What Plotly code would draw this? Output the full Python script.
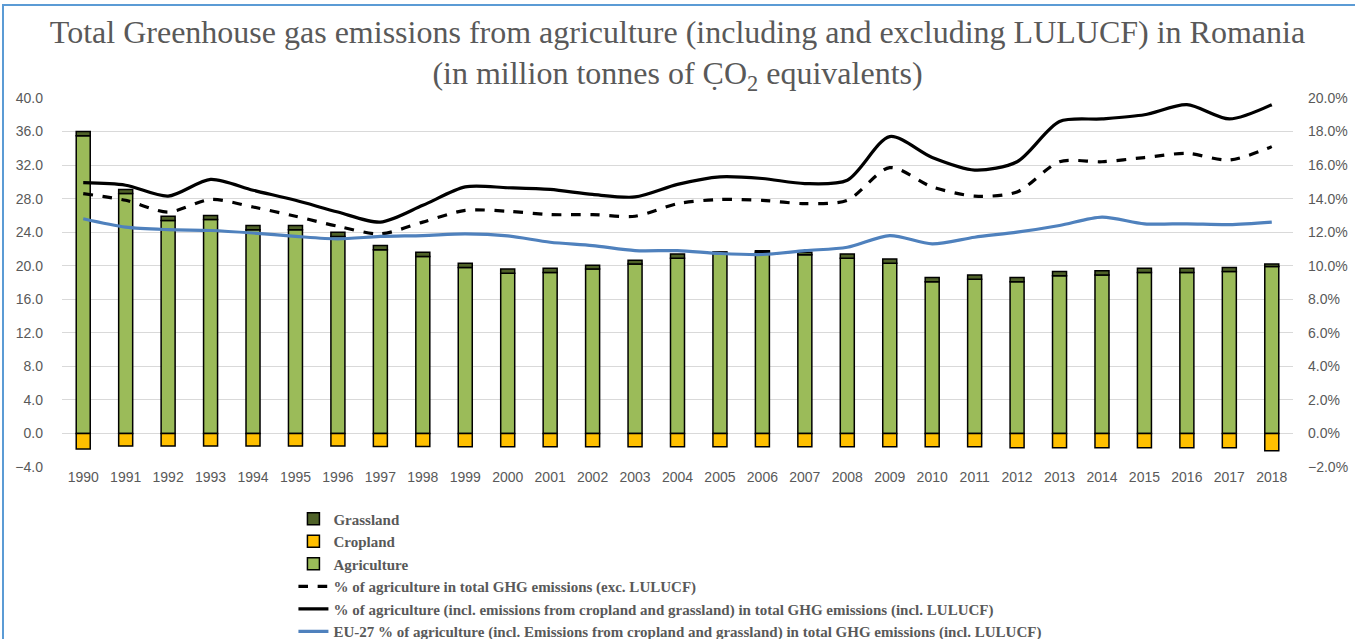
import plotly.graph_objects as go

years = [str(y) for y in range(1990, 2019)]

agriculture = [35.5, 28.6, 25.4, 25.5, 24.3, 24.3, 23.5, 21.9, 21.1, 19.8, 19.1, 19.2, 19.6, 20.2, 20.9,
               21.5, 21.6, 21.3, 20.9, 20.3, 18.1, 18.4, 18.1, 18.8, 18.9, 19.2, 19.2, 19.3, 19.9]
grassland = [0.5, 0.5, 0.5, 0.5, 0.5, 0.5, 0.5, 0.5, 0.5, 0.5, 0.5, 0.5, 0.45, 0.45, 0.5,
             0.15, 0.2, 0.3, 0.5, 0.5, 0.5, 0.5, 0.5, 0.5, 0.5, 0.5, 0.5, 0.5, 0.3]
cropland = [-1.85, -1.5, -1.5, -1.5, -1.5, -1.5, -1.5, -1.55, -1.55, -1.6, -1.6, -1.6, -1.6, -1.6, -1.6,
            -1.6, -1.6, -1.6, -1.6, -1.6, -1.6, -1.6, -1.7, -1.7, -1.7, -1.7, -1.7, -1.7, -2.05]

pct_excl = [14.3, 13.9, 13.2, 13.95, 13.5, 12.95, 12.35, 11.9, 12.6, 13.3, 13.25, 13.05, 13.05, 12.95, 13.7,
            13.95, 13.9, 13.7, 13.9, 15.85, 14.7, 14.15, 14.4, 16.2, 16.2, 16.45, 16.7, 16.3, 17.1]
pct_incl = [14.95, 14.8, 14.15, 15.15, 14.5, 13.9, 13.2, 12.6, 13.6, 14.7, 14.65, 14.55, 14.25, 14.1, 14.85,
            15.3, 15.2, 14.9, 15.1, 17.7, 16.45, 15.7, 16.2, 18.6, 18.75, 19.0, 19.6, 18.75, 19.6]
pct_eu27 = [12.8, 12.3, 12.15, 12.1, 11.95, 11.75, 11.6, 11.75, 11.8, 11.9, 11.78, 11.4, 11.2, 10.9, 10.9,
            10.73, 10.67, 10.9, 11.1, 11.8, 11.3, 11.7, 12.0, 12.4, 12.9, 12.5, 12.5, 12.45, 12.6]

left_ticks = [-4, 0, 4, 8, 12, 16, 20, 24, 28, 32, 36, 40]
right_ticks = [-2, 0, 2, 4, 6, 8, 10, 12, 14, 16, 18, 20]

title_text = ("Total Greenhouse gas emissions from agriculture (including and excluding LULUCF) in Romania<br>"
              "(in million tonnes of C\u0323O<sub>2</sub> equivalents)")

fig = go.Figure()
bar_line = dict(color="black", width=1.5)
fig.add_trace(go.Bar(x=years, y=agriculture, name="Agriculture", marker=dict(color="#9BBB59", line=bar_line),
                     width=0.33, legendrank=3))
fig.add_trace(go.Bar(x=years, y=grassland, name="Grassland", marker=dict(color="#4F6228", line=bar_line),
                     width=0.33, legendrank=1))
fig.add_trace(go.Bar(x=years, y=cropland, name="Cropland", marker=dict(color="#FFC000", line=bar_line),
                     width=0.33, legendrank=2))
fig.add_trace(go.Scatter(x=years, y=[v / 100 for v in pct_excl], yaxis="y2", mode="lines",
                         name="% of agriculture in total GHG emissions (exc. LULUCF)",
                         line=dict(color="black", width=3.2, dash="dash", shape="spline", smoothing=0.8),
                         legendrank=4))
fig.add_trace(go.Scatter(x=years, y=[v / 100 for v in pct_incl], yaxis="y2", mode="lines",
                         name="% of agriculture (incl. emissions from cropland and grassland) in total GHG emissions (incl. LULUCF)",
                         line=dict(color="black", width=3.2, shape="spline", smoothing=0.8),
                         legendrank=5))
fig.add_trace(go.Scatter(x=years, y=[v / 100 for v in pct_eu27], yaxis="y2", mode="lines",
                         name="EU-27 % of agriculture (incl. Emissions from cropland and grassland) in total GHG emissions (incl. LULUCF)",
                         line=dict(color="#4F81BD", width=3.2, shape="spline", smoothing=0.8),
                         legendrank=6))

tick_font = dict(family="Liberation Sans Narrow, Liberation Sans, Arial", size=14, color="#595959")

fig.update_layout(
    width=1355, height=639,
    barmode="relative",
    bargap=0.67,
    paper_bgcolor="white", plot_bgcolor="white",
    margin=dict(l=62, r=62, t=98, b=172, autoexpand=False),
    title=dict(text=title_text, x=0.5, xanchor="center", y=0.933, yanchor="top",
               font=dict(family="Liberation Serif, Times New Roman, serif", size=32, color="#595959")),
    xaxis=dict(type="category", tickfont=tick_font, showgrid=False, ticks="", showline=False,
               automargin=False),
    yaxis=dict(range=[-4, 40], tickvals=left_ticks, tickformat=".1f", tickfont=tick_font,
               gridcolor="#D9D9D9", gridwidth=1, zeroline=False, showline=False, ticks="",
               automargin=False, ticklabelstandoff=18),
    yaxis2=dict(range=[-0.02, 0.20], tickvals=[v / 100 for v in right_ticks], tickformat=".1%",
                tickfont=tick_font, overlaying="y", side="right", showgrid=False, zeroline=False,
                showline=False, ticks="", automargin=False, ticklabelstandoff=14),
    legend=dict(x=0.188, y=-0.0964, xanchor="left", yanchor="top", orientation="v", traceorder="normal",
                font=dict(family="Liberation Serif, Times New Roman, serif", size=15, color="#595959",
                          weight="bold"),
                bgcolor="rgba(0,0,0,0)", tracegroupgap=0, itemwidth=30),
    showlegend=True,
    shapes=[dict(type="rect", xref="paper", yref="paper",
                 x0=-59 / 1231, x1=1370 / 1231, y0=(467 - 660) / 369, y1=(467 - 5) / 369,
                 line=dict(color="#5B9BD5", width=2), fillcolor="rgba(0,0,0,0)", layer="below")],
)

fig.write_html("out.html", config={"displayModeBar": False},
               post_script="document.body.style.margin='0';document.body.style.overflow='hidden';")
